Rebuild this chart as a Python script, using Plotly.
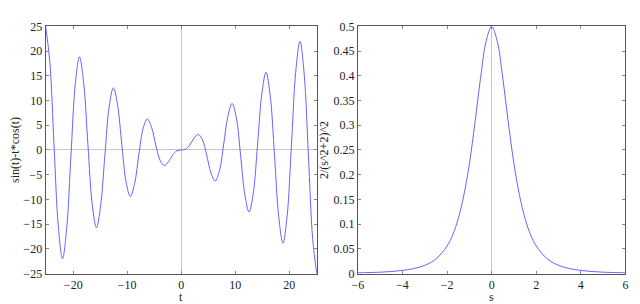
import plotly.graph_objects as go
from plotly.subplots import make_subplots

# Left panel: values
t_pos = [0, 0.785, 1.571, 2.356, 3.142, 3.927, 4.712, 5.498, 6.283, 7.069, 7.854, 8.639,
         9.425, 10.21, 10.996, 11.781, 12.566, 13.352, 14.137, 14.923, 15.708, 16.493,
         17.279, 18.064, 18.85, 19.635, 20.42, 21.206, 21.991, 22.777, 23.562, 24.347, 25.133]
y_pos = [0, 0.15, 1.0, 2.37, 3.14, 2.07, -1.0, -4.6, -6.28, -4.29, 1.0, 6.82,
         9.42, 6.51, -1.0, -9.04, -12.57, -8.73, 1.0, 11.26, 15.71, 10.96,
         -1.0, -13.48, -18.85, -13.18, 1.0, 15.7, 21.99, 15.4, -1.0, -17.92, -25.13]
t_neg = [-25.133, -24.347, -23.562, -22.777, -21.991, -21.206, -20.42, -19.635, -18.85,
         -18.064, -17.279, -16.493, -15.708, -14.923, -14.137, -13.352, -12.566, -11.781,
         -10.996, -10.21, -9.425, -8.639, -7.854, -7.069, -6.283, -5.498, -4.712, -3.927,
         -3.142, -2.356, -1.571, -0.785]
y_neg = [25.13, 17.92, 1.0, -15.4, -21.99, -15.7, -1.0, 13.18, 18.85,
         13.48, 1.0, -10.96, -15.71, -11.26, -1.0, 8.73, 12.57, 9.04,
         1.0, -6.51, -9.42, -6.82, -1.0, 4.29, 6.28, 4.6, 1.0, -2.07,
         -3.14, -2.37, -1.0, -0.15]
t_vals = t_neg + t_pos
f_vals = y_neg + y_pos

# Right panel
s_vals = [-6, -5.5, -5, -4.5, -4, -3.5, -3, -2.5, -2, -1.75, -1.5, -1.25, -1, -0.75, -0.5, -0.25,
          0, 0.25, 0.5, 0.75, 1, 1.25, 1.5, 1.75, 2, 2.5, 3, 3.5, 4, 4.5, 5, 5.5, 6]
g_vals = [0.0014, 0.0019, 0.0027, 0.0040, 0.0062, 0.0099, 0.0165, 0.0294, 0.0556, 0.078, 0.111,
          0.158, 0.222, 0.305, 0.395, 0.470,
          0.5, 0.470, 0.395, 0.305, 0.222, 0.158, 0.111, 0.078, 0.0556, 0.0294, 0.0165, 0.0099,
          0.0062, 0.0040, 0.0027, 0.0019, 0.0014]

line_color = "#6464ff"
font_family = "Liberation Serif"
text_color = "#222222"

fig = make_subplots(rows=1, cols=2)
fig.add_trace(go.Scatter(x=t_vals, y=f_vals, mode="lines",
                         line=dict(color=line_color, width=1, shape="spline", smoothing=1.0),
                         showlegend=False), row=1, col=1)
fig.add_trace(go.Scatter(x=s_vals, y=g_vals, mode="lines",
                         line=dict(color=line_color, width=1, shape="spline", smoothing=1.0),
                         showlegend=False), row=1, col=2)

axis_common = dict(showgrid=False, showline=True, linecolor="#555555", linewidth=1,
                   mirror="ticks", ticks="inside", ticklen=3, tickcolor="#888888",
                   zeroline=True, zerolinecolor="#c8c8c8", zerolinewidth=1,
                   tickfont=dict(family=font_family, size=12, color=text_color),
                   title_font=dict(family=font_family, size=12, color=text_color))

fig.update_layout(
    width=640, height=304,
    margin=dict(l=0, r=0, t=0, b=0),
    paper_bgcolor="white", plot_bgcolor="white",
    xaxis=dict(domain=[0.05, 0.48], range=[-25.133, 25.133], tickvals=[-20, -10, 0, 10, 20],
               **axis_common),
    yaxis=dict(domain=[0.1086, 0.9605], range=[-25, 25], dtick=5,
               title=dict(text="sin(t)-t*cos(t)", standoff=2), **axis_common),
    xaxis2=dict(domain=[0.545, 0.969], range=[-6, 6], dtick=2, **axis_common),
    yaxis2=dict(domain=[0.1086, 0.9605], range=[0, 0.5], dtick=0.05,
                title=dict(text="2/(s^2+2)^2", standoff=2), **axis_common),
)

for xref, label in [("x domain", "t"), ("x2 domain", "s")]:
    fig.add_annotation(text=label, xref=xref, yref="paper", x=0.5, y=0.027,
                       xanchor="center", yanchor="middle", showarrow=False,
                       font=dict(family=font_family, size=12, color=text_color))

fig.write_html("out.html")
